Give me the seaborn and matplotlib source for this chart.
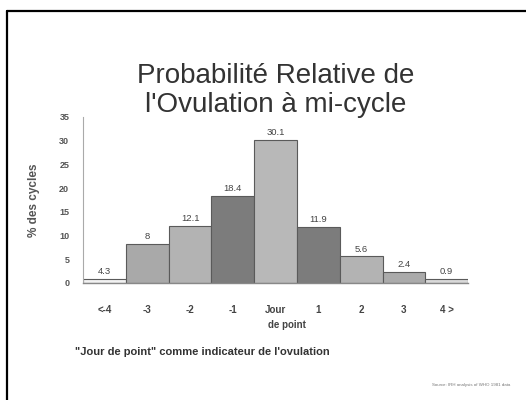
import matplotlib
matplotlib.use("Agg")
import matplotlib.pyplot as plt
import pandas as pd
import seaborn as sns

# data
categories = ["<-4", "-3", "-2", "-1", "Jour", "1", "2", "3", "4 >"]
heights = [0.8, 8.3, 12.1, 18.4, 30.1, 11.9, 5.6, 2.4, 0.9]
value_labels = ["4.3", "8", "12.1", "18.4", "30.1", "11.9", "5.6", "2.4", "0.9"]
bar_colors = ["#f2f2f2", "#a9a9a9", "#b3b3b3", "#7c7c7c", "#b8b8b8",
              "#7c7c7c", "#b3b3b3", "#ababab", "#d9d9d9"]
y_ticks = [0, 5, 10, 15, 20, 25, 30, 35]

sns.set_theme(style="white")
plt.rcParams["font.family"] = ["Liberation Sans", "DejaVu Sans"]

df = pd.DataFrame({"jour": categories, "pct": heights})

fig = plt.figure(figsize=(5.26, 4.0), dpi=100)
ax = fig.add_axes([0.158, 0.2925, 0.732, 0.415])

sns.barplot(data=df, x="jour", y="pct", hue="jour", palette=bar_colors,
            legend=False, width=1.0, edgecolor="#5a5a5a", linewidth=0.8,
            saturation=1, ax=ax)

for i, (h, lab) in enumerate(zip(heights, value_labels)):
    ax.text(i, h + 0.6, lab, ha="center", va="bottom", fontsize=6.8,
            color="#444444")

ax.set_xlim(-0.5, len(categories) - 0.5)
ax.set_ylim(0, 35)
ax.set_yticks(y_ticks)
ax.set_yticklabels([str(t) for t in y_ticks], fontsize=6.5, fontweight="bold",
                   color="#555555")
ax.set_xticks(range(len(categories)))
ax.set_xticklabels(categories, fontsize=7, fontweight="bold", color="#444444")
ax.tick_params(axis="x", length=0, pad=16)
ax.tick_params(axis="y", length=0, pad=10)
ax.set_xlabel("")
ax.set_ylabel("% des cycles", fontsize=8.5, fontweight="bold", color="#555555",
              labelpad=14)

for side in ["top", "right"]:
    ax.spines[side].set_visible(False)
ax.spines["left"].set_color("#aaaaaa")
ax.spines["left"].set_linewidth(0.8)
ax.spines["bottom"].set_color("#888888")
ax.spines["bottom"].set_linewidth(1.0)

fig.text(0.545, 0.187, "de point", ha="center", va="center", fontsize=7,
         fontweight="bold", color="#444444")

fig.text(0.525, 0.773, "Probabilité Relative de\nl'Ovulation à mi-cycle",
         ha="center", va="center", fontsize=20, color="#333333",
         linespacing=1.15)

fig.text(0.143, 0.12, "\"Jour de point\" comme indicateur de l'ovulation",
         ha="left", va="center", fontsize=8, fontweight="bold",
         color="#333333")

fig.text(0.97, 0.038, "Source: IRH analysis of WHO 1981 data", ha="right",
         va="center", fontsize=3.2, color="#777777")

# frame around the slide (only top and left edges visible)
fig.add_artist(plt.Line2D([0.0135, 1.0], [0.972, 0.972], color="black",
                          linewidth=1.6, transform=fig.transFigure))
fig.add_artist(plt.Line2D([0.0135, 0.0135], [0.0, 0.972], color="black",
                          linewidth=1.6, transform=fig.transFigure))

fig.savefig("out.png", dpi=100)
